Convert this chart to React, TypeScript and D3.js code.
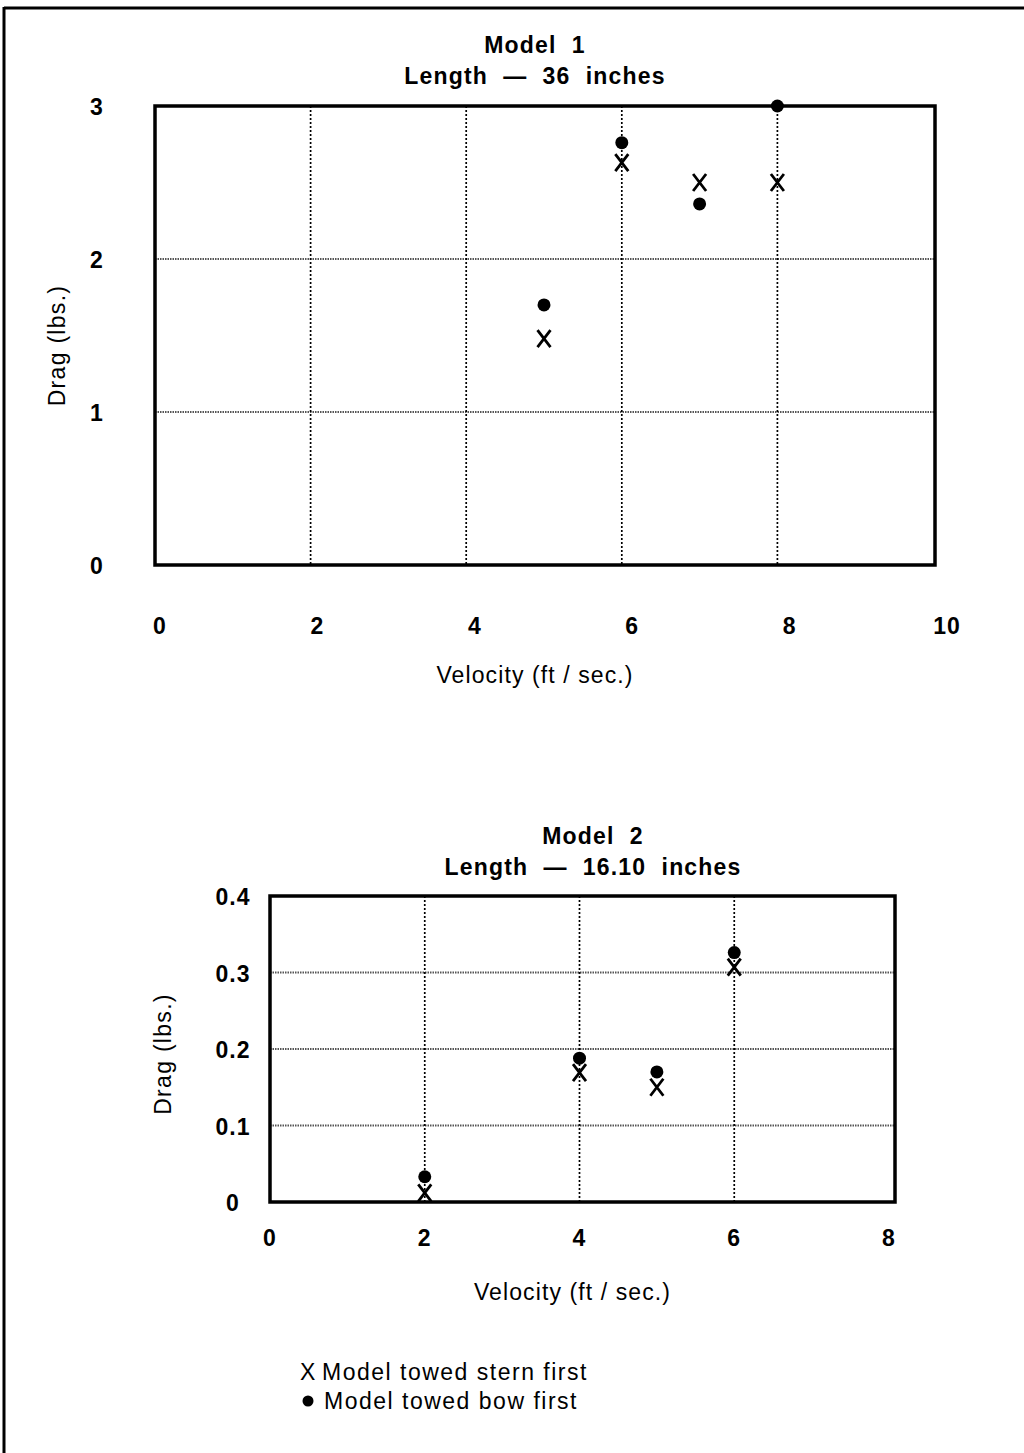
import React from "react";
import * as d3 from "d3";

// ---- Data ----
const m1Title = ["Model  1", "Length  —  36  inches"];
const m2Title = ["Model  2", "Length  —  16.10  inches"];
const m1XTicks = [0, 2, 4, 6, 8, 10];
const m1YTicks = [0, 1, 2, 3];
const m2XTicks = [0, 2, 4, 6, 8];
const m2YTicks = [0, 0.1, 0.2, 0.3, 0.4];
const m1Velocity = [5, 6, 7, 8];
const m1Stern = [1.48, 2.63, 2.5, 2.5];
const m1Bow = [1.7, 2.76, 2.36, 3.0];
const m2Velocity = [2, 4, 5, 6];
const m2Stern = [0.012, 0.169, 0.15, 0.307];
const m2Bow = [0.033, 0.188, 0.17, 0.326];
const legendItems = ["Model towed stern first", "Model towed bow first"];

const FONT = "'Liberation Sans', Arial, Helvetica, sans-serif";

type PanelProps = {
  title: string[];
  titleX: number;
  titleY: number;
  x0: number; x1: number; y0: number; y1: number;
  frameRight: number;
  xDomain: [number, number];
  yDomain: [number, number];
  xTicks: number[];
  yTicks: number[];
  xLabelY: number;
  xLabelShift: (v: number) => number;
  yLabelX: number;
  yFmt: (v: number) => string;
  velocity: number[];
  stern: number[];
  bow: number[];
  xTitleY: number;
  yTitleX: number;
  yTitleShift: number;
};

const XMark = ({ cx, cy }: { cx: number; cy: number }) => (
  <path
    d={`M${cx - 6.5},${cy - 8.5}L${cx + 6.5},${cy + 8.5}M${cx + 6.5},${cy - 8.5}L${cx - 6.5},${cy + 8.5}`}
    stroke="#000"
    strokeWidth={2.8}
    fill="none"
  />
);

const Panel = (p: PanelProps) => {
  const x = d3.scaleLinear().domain(p.xDomain).range([p.x0, p.x1]);
  const y = d3.scaleLinear().domain(p.yDomain).range([p.y1, p.y0]);
  const top = p.y0;
  const bottom = p.y1;
  const left = p.x0;
  const right = p.frameRight;
  const innerX = p.xTicks.filter((t) => t > p.xDomain[0] && t < p.xDomain[1]);
  const innerY = p.yTicks.filter((t) => t > p.yDomain[0] && t < p.yDomain[1]);
  const pre = { whiteSpace: "pre" as const };
  return (
    <g>
      <text x={p.titleX} y={p.titleY} textAnchor="middle" fontFamily={FONT} fontWeight="bold" fontSize={23} letterSpacing={1.2} style={pre}>
        {p.title[0]}
      </text>
      <text x={p.titleX} y={p.titleY + 31} textAnchor="middle" fontFamily={FONT} fontWeight="bold" fontSize={23} letterSpacing={1.2} style={pre}>
        {p.title[1]}
      </text>
      {innerY.map((t) => (
        <line key={"gy" + t} x1={left} x2={right} y1={y(t)} y2={y(t)} stroke="#555" strokeWidth={2} strokeDasharray="1.5,1" />
      ))}
      {innerX.map((t) => (
        <line key={"gx" + t} x1={x(t)} x2={x(t)} y1={top} y2={bottom} stroke="#000" strokeWidth={1.7} strokeDasharray="2,2" />
      ))}
      <rect x={left} y={top} width={right - left} height={bottom - top} fill="none" stroke="#000" strokeWidth={3.5} />
      {p.xTicks.map((t) => (
        <text key={"xl" + t} x={x(t) + p.xLabelShift(t)} y={p.xLabelY} textAnchor="middle" dominantBaseline="central" fontFamily={FONT} fontWeight="bold" fontSize={23} letterSpacing={1}>
          {t}
        </text>
      ))}
      {p.yTicks.map((t) => (
        <text key={"yl" + t} x={p.yLabelX} y={y(t) + 1} textAnchor="middle" dominantBaseline="central" fontFamily={FONT} fontWeight="bold" fontSize={23} letterSpacing={1}>
          {p.yFmt(t)}
        </text>
      ))}
      <text x={(left + right) / 2 - 10} y={p.xTitleY} textAnchor="middle" dominantBaseline="central" fontFamily={FONT} fontSize={23} letterSpacing={1.1}>
        Velocity (ft / sec.)
      </text>
      <text
        transform={`translate(${p.yTitleX},${(top + bottom) / 2 + p.yTitleShift}) rotate(-90)`}
        textAnchor="middle"
        dominantBaseline="central"
        fontFamily={FONT}
        fontSize={23}
        letterSpacing={1.3}
      >
        Drag (lbs.)
      </text>
      {p.velocity.map((v, i) => (
        <circle key={"b" + i} cx={x(v)} cy={y(p.bow[i])} r={6.5} fill="#000" />
      ))}
      {p.velocity.map((v, i) => (
        <XMark key={"s" + i} cx={x(v)} cy={y(p.stern[i])} />
      ))}
    </g>
  );
};

export default function App() {
  return (
    <svg
      width={1024}
      height={1453}
      style={{ position: "absolute", left: 0, top: 0, background: "#fff" }}
    >
      <rect x={0} y={0} width={1024} height={1453} fill="#fff" />
      <line x1={4} x2={1024} y1={8} y2={8} stroke="#000" strokeWidth={3} />
      <line x1={4} x2={4} y1={7} y2={1453} stroke="#000" strokeWidth={3} />
      <Panel
        title={m1Title}
        titleX={535}
        titleY={53}
        x0={155}
        x1={933}
        y0={106}
        y1={565}
        frameRight={935}
        xDomain={[0, 10]}
        yDomain={[0, 3]}
        xTicks={m1XTicks}
        yTicks={m1YTicks}
        xLabelY={626}
        xLabelShift={(t) => 5 + t * 0.9}
        yLabelX={97}
        yFmt={(v) => String(v)}
        velocity={m1Velocity}
        stern={m1Stern}
        bow={m1Bow}
        xTitleY={675}
        yTitleX={57}
        yTitleShift={10}
      />
      <Panel
        title={m2Title}
        titleX={593}
        titleY={844}
        x0={270}
        x1={889}
        y0={896}
        y1={1202}
        frameRight={895}
        xDomain={[0, 8]}
        yDomain={[0, 0.4]}
        xTicks={m2XTicks}
        yTicks={m2YTicks}
        xLabelY={1238}
        xLabelShift={() => 0}
        yLabelX={233}
        yFmt={(v) => (v === 0 ? "0" : d3.format(".1f")(v))}
        velocity={m2Velocity}
        stern={m2Stern}
        bow={m2Bow}
        xTitleY={1292}
        yTitleX={163}
        yTitleShift={5}
      />
      <g fontFamily={FONT} fontSize={23} letterSpacing={1.5}>
        <text x={300} y={1380} letterSpacing={0}>X</text>
        <text x={322} y={1380}>{legendItems[0]}</text>
        <circle cx={308} cy={1401} r={5.5} fill="#000" />
        <text x={324} y={1409}>{legendItems[1]}</text>
      </g>
    </svg>
  );
}
